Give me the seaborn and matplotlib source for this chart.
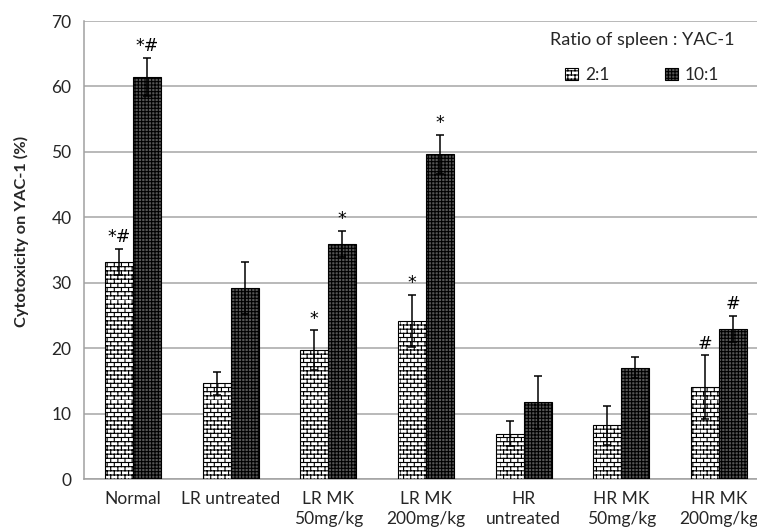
import numpy as np
import pandas as pd
import matplotlib
matplotlib.use("Agg")
import matplotlib.pyplot as plt
import matplotlib.hatch as mhatch
from matplotlib.path import Path
from matplotlib.ticker import FixedLocator
import seaborn as sns

# ---------------- data ----------------
groups = ["Normal", "LR untreated", "LR MK\n50mg/kg", "LR MK\n200mg/kg",
          "HR\nuntreated", "HR MK\n50mg/kg", "HR MK\n200mg/kg"]
ratios = ["2:1", "10:1"]
vals_2_1 = [33.2, 14.6, 19.7, 24.1, 6.9, 8.2, 14.0]
err_2_1 = [2.0, 1.8, 3.0, 4.0, 1.9, 3.0, 4.9]
vals_10_1 = [61.5, 29.2, 35.9, 49.6, 11.7, 17.0, 22.9]
err_10_1 = [2.9, 4.0, 2.0, 3.0, 4.0, 1.6, 2.0]
marks_2_1 = ["*#", "", "*", "*", "", "", "#"]
marks_10_1 = ["*#", "", "*", "*", "", "", "#"]
y_ticks = [0, 10, 20, 30, 40, 50, 60, 70]
legend_title = "Ratio of spleen : YAC-1"
y_label = "Cytotoxicity on YAC-1 (%)"


# ---------------- brick hatch ----------------
class Bricks(mhatch.HatchPatternBase):
    def __init__(self, hatch, density):
        if "*" in hatch:
            nrows = 24
            nb = 14
            segs = []
            for r in range(nrows):
                y0 = r / nrows
                y1 = (r + 1) / nrows
                segs.append([(0.0, y0), (1.0, y0)])
                off = 0.0 if r % 2 == 0 else 0.5 / nb
                for b in range(nb):
                    x = b / nb + off
                    segs.append([(x, y0), (x, y1)])
            self.segs = np.array(segs, dtype=float)
        else:
            self.segs = np.zeros((0, 2, 2))
        self.num_vertices = len(self.segs) * 2

    def set_vertices_and_codes(self, vertices, codes):
        vertices[:] = self.segs.reshape(-1, 2)
        codes[0::2] = Path.MOVETO
        codes[1::2] = Path.LINETO


mhatch._hatch_types = [t for t in mhatch._hatch_types if t is not mhatch.Stars] + [Bricks]

# ---------------- figure ----------------
sns.set_theme(style="white")
plt.rcParams["font.family"] = ["Lato", "DejaVu Sans"]
plt.rcParams["hatch.linewidth"] = 0.8
plt.rcParams["hatch.color"] = "black"

df = pd.DataFrame({
    "group": groups * 2,
    "ratio": [ratios[0]] * len(groups) + [ratios[1]] * len(groups),
    "value": vals_2_1 + vals_10_1,
})

fig = plt.figure(figsize=(7.57, 5.32), dpi=100)
W, H = 757, 532
ax = fig.add_axes([84 / W, (H - 479) / H, 684 / W, (479 - 21) / H])

face = ["white", "#555555"]
sns.barplot(data=df, x="group", y="value", hue="ratio", order=groups,
            hue_order=ratios, width=0.573, errorbar=None, ax=ax,
            palette=face, edgecolor="black", linewidth=0.8,
            legend=True, zorder=3)

hatches = {ratios[0]: "*", ratios[1]: "+++++"}
n = len(groups)
bars = ax.patches[: 2 * n]
for i, p in enumerate(bars):
    p.set_hatch(hatches[ratios[i // n]])
    p.set_edgecolor("black")

# error bars & annotation marks
series = [(vals_2_1, err_2_1, marks_2_1), (vals_10_1, err_10_1, marks_10_1)]
for s, (vals, errs, marks) in enumerate(series):
    xs = [bars[s * n + i].get_x() + bars[s * n + i].get_width() / 2 for i in range(n)]
    ax.errorbar(xs, vals, yerr=errs, fmt="none", ecolor="black", elinewidth=1.1,
                capsize=3, capthick=1.1, zorder=4)
    for x, v, e, m in zip(xs, vals, errs, marks):
        if m:
            ax.annotate(m, (x, v + e), xytext=(0, 2), textcoords="offset points",
                        ha="center", va="bottom", fontsize=12.5, color="black",
                        family=["DejaVu Sans"])

# axes styling
ax.set_ylim(0, 70)
ax.set_xlim(-0.5, n - 0.5)
ax.set_yticks(y_ticks)
ax.yaxis.grid(True, color="#a6a6a6", linewidth=1.1, zorder=0)
ax.set_axisbelow(True)
for side in ["top", "right"]:
    ax.spines[side].set_visible(False)
for side in ["left", "bottom"]:
    ax.spines[side].set_color("#a0a0a0")
    ax.spines[side].set_linewidth(1.1)

ax.set_xticks(range(n))
ax.set_xticklabels(groups, fontsize=12.5, linespacing=1.25)
ax.xaxis.set_minor_locator(FixedLocator(np.arange(-0.5, n, 1.0)))
ax.tick_params(axis="x", which="major", length=0, pad=9)
ax.tick_params(axis="x", which="minor", length=5, width=1.1, color="#a0a0a0", direction="out")
ax.tick_params(axis="y", which="major", length=5, width=1.1, color="#a0a0a0",
               direction="out", labelsize=12.5, pad=4)
ax.set_xlabel("")
ax.set_ylabel(y_label, fontsize=11.8, fontweight="bold")
ax.yaxis.set_label_coords((29 - 84) / 684, (479 - 231) / 458)

# legend
leg = ax.legend(title=legend_title, loc="upper right",
                bbox_to_anchor=(750 / W, 1 - 16 / H), bbox_transform=fig.transFigure,
                ncol=2, frameon=False, fontsize=12.5, title_fontsize=13,
                handlelength=0.75, handleheight=0.75, handletextpad=0.4,
                columnspacing=3.2)
leg._legend_box.sep = 14
for h, r, fc in zip(leg.legend_handles, ratios, face):
    h.set_hatch(hatches[r])
    h.set_facecolor(fc)
    h.set_edgecolor("black")
    h.set_linewidth(0.8)

fig.savefig("out.png", dpi=100)
